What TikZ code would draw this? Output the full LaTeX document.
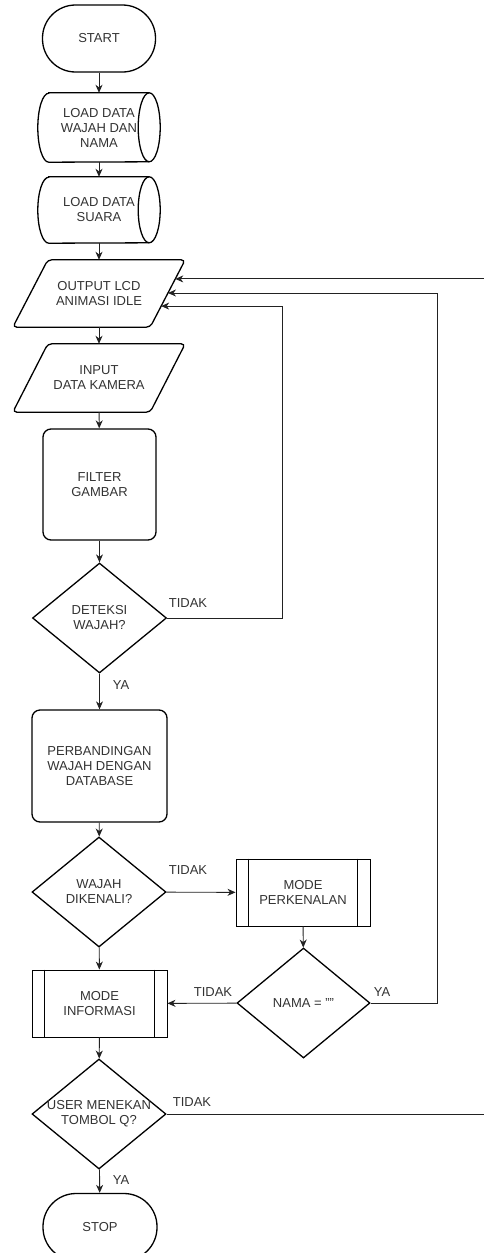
\documentclass[tikz,border=0pt]{standalone}
\usepackage{fontspec}
\setmainfont{Liberation Sans}
\usetikzlibrary{shapes.geometric,arrows.meta,calc}
\definecolor{txtc}{HTML}{333333}
\definecolor{linec}{HTML}{222222}
\begin{document}
\begin{tikzpicture}[x=1pt,y=1pt,
  font=\fontsize{13}{15}\selectfont,
  txt/.style={text=txtc, align=center, inner sep=0pt},
  shp/.style={draw=black, line width=1.3pt},
  term/.style={shp, txt, rounded corners=33pt, minimum width=113pt, minimum height=67pt},
  ghost/.style={txt, draw=none},
  rbox/.style={shp, txt, rounded corners=8pt},
  proc/.style={draw=black, line width=0.9pt, txt, minimum width=134pt, minimum height=67pt},
  dia/.style={shp, diamond, inner sep=0pt, minimum width=134pt, minimum height=110pt},
  arr/.style={draw=linec, line width=0.9pt, -{Stealth[length=8pt,width=7pt,inset=2.5pt]}},
  lbl/.style={txt}
]
\useasboundingbox (0,0) rectangle (483,-1253);

% START
\node[term] (start) at (99,-38.5) {START};

% cylinders
\node[ghost, minimum width=122pt, minimum height=69pt] (c1) at (99,-127.5) {LOAD DATA\\WAJAH DAN\\NAMA};
\node[ghost, minimum width=122pt, minimum height=66pt] (c2) at (99,-210) {LOAD DATA\\SUARA};
\foreach \c/\ry in {c1/34.5, c2/33}{
  \draw[shp] ([xshift=11pt]\c.north west) -- ([xshift=-11pt]\c.north east)
     arc[start angle=90, end angle=-90, x radius=11pt, y radius=\ry pt]
     -- ([xshift=11pt]\c.south west)
     arc[start angle=270, end angle=90, x radius=11pt, y radius=\ry pt] -- cycle;
  \draw[shp] ([xshift=-11pt]\c.north east)
     arc[start angle=90, end angle=270, x radius=11pt, y radius=\ry pt];
}

% parallelograms
\node[ghost, minimum width=172pt, minimum height=67pt] (lcd) at (99,-293.5) {OUTPUT LCD\\ANIMASI IDLE};
\node[ghost, minimum width=172pt, minimum height=68pt] (cam) at (99,-378) {INPUT\\DATA KAMERA};
\foreach \p in {lcd, cam}{
  \draw[shp, rounded corners=4pt] ($(\p.north west)+(35,0)$) -- (\p.north east)
     -- ($(\p.south east)-(35,0)$) -- (\p.south west) -- cycle;
}
\coordinate (lcdse) at ($(lcd.south east)-(35,0)$);
\coordinate (in1) at ($(lcd.north east)!0.2836!(lcdse)$);
\coordinate (in2) at ($(lcd.north east)!0.4925!(lcdse)$);
\coordinate (in3) at ($(lcd.north east)!0.6866!(lcdse)$);

% filter
\node[rbox, minimum width=113pt, minimum height=111pt] (fg) at (99.5,-484.5) {FILTER\\GAMBAR};

% deteksi
\node[dia] (det) at (99.5,-618) {};
\node[ghost] (dett) at (det) {DETEKSI\\WAJAH?};

% perbandingan
\node[rbox, minimum width=135pt, minimum height=112pt] (cmp) at (99.5,-766) {PERBANDINGAN\\WAJAH DENGAN\\DATABASE};

% wajah dikenali
\node[dia] (wk) at (99,-892) {};
\node[ghost] (wkt) at (wk) {WAJAH\\DIKENALI?};

% mode perkenalan
\node[proc] (mp) at (303,-892.5) {MODE\\PERKENALAN};

% nama
\node[dia, minimum width=133pt] (nm) at (303.5,-1003) {};
\node[ghost] (nmt) at (nm) {NAMA = ""};

% mode informasi
\node[proc, minimum width=135pt] (mi) at (99.5,-1003.5) {MODE\\INFORMASI};
\foreach \p in {mp, mi}{
  \draw[draw=black, line width=0.9pt] ([xshift=13pt]\p.north west) -- ([xshift=13pt]\p.south west);
  \draw[draw=black, line width=0.9pt] ([xshift=-13pt]\p.north east) -- ([xshift=-13pt]\p.south east);
}

% user
\node[dia] (us) at (99,-1114) {};
\node[ghost] (ust) at (us) {USER MENEKAN\\TOMBOL Q?};

% stop
\node[term, minimum width=114pt] (stop) at (100,-1227) {STOP};

% connectors
\draw[arr] (start) -- (c1);
\draw[arr] (c1) -- (c2);
\draw[arr] (c2) -- (lcd);
\draw[arr] (lcd) -- (cam);
\draw[arr] (cam) -- (fg);
\draw[arr] (fg) -- (det);
\draw[arr] (det) -- (cmp);
\draw[arr] (cmp) -- (wk);
\draw[arr] (wk) -- (mi);
\draw[arr] (wk) -- (mp);
\draw[arr] (mp) -- (nm);
\draw[arr] (nm) -- (mi);
\draw[arr] (mi) -- (us);
\draw[arr] (us) -- (stop);
\draw[arr] (det.east) -- ++(115,0) |- (in3);
\draw[arr] (nm.east) -- ++(67,0) |- (in2);
\draw[arr] (us.east) -- ++(324,0) |- (in1);

% labels
\node[lbl] (l1) at (188,-603) {TIDAK};
\node[lbl] (l2) at (121,-685) {YA};
\node[lbl] (l3) at (188,-870) {TIDAK};
\node[lbl] (l4) at (213,-992) {TIDAK};
\node[lbl] (l5) at (382,-992) {YA};
\node[lbl] (l6) at (192,-1102) {TIDAK};
\node[lbl] (l7) at (121,-1180) {YA};
\end{tikzpicture}
\end{document}
